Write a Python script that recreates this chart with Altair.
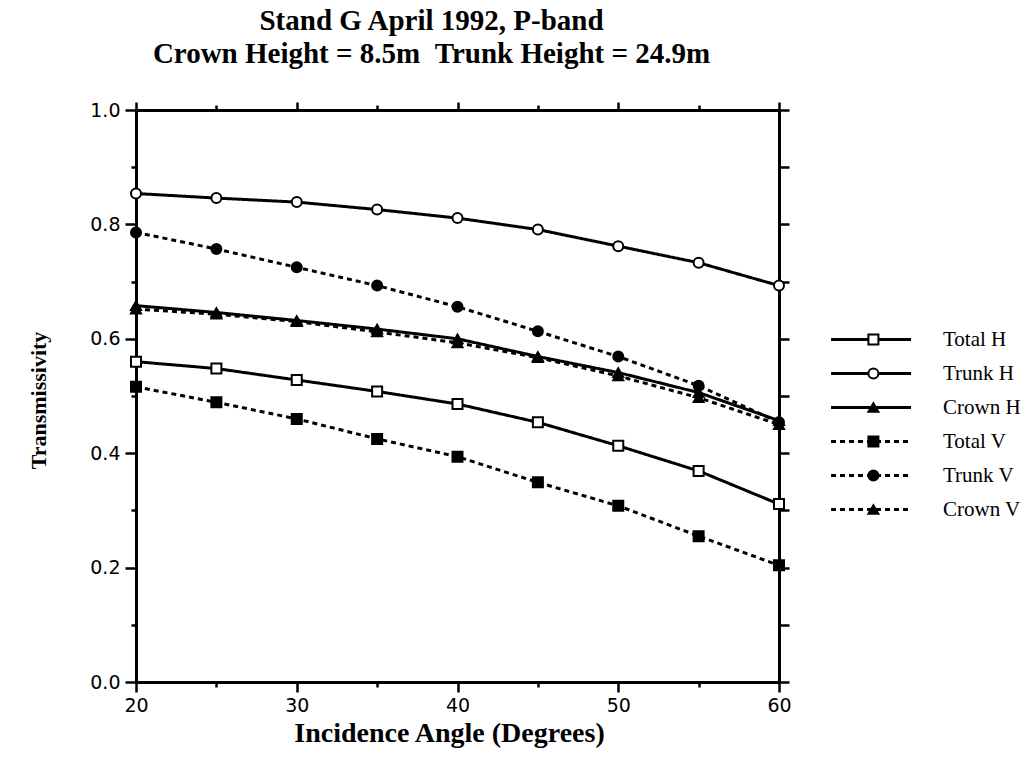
import altair as alt
import pandas as pd

# ---- data ----
angles = [20, 25, 30, 35, 40, 45, 50, 55, 60]
total_h = [0.560, 0.548, 0.528, 0.508, 0.486, 0.454, 0.413, 0.369, 0.311]
trunk_h = [0.854, 0.846, 0.839, 0.826, 0.811, 0.791, 0.762, 0.733, 0.693]
crown_h = [0.658, 0.646, 0.632, 0.617, 0.600, 0.569, 0.541, 0.506, 0.457]
total_v = [0.516, 0.489, 0.460, 0.425, 0.394, 0.349, 0.308, 0.255, 0.204]
trunk_v = [0.786, 0.757, 0.725, 0.693, 0.656, 0.613, 0.569, 0.518, 0.454]
crown_v = [0.652, 0.643, 0.630, 0.612, 0.593, 0.567, 0.535, 0.497, 0.450]

series_names = ["Total H", "Trunk H", "Crown H", "Total V", "Trunk V", "Crown V"]
components = ["Total", "Trunk", "Crown", "Total", "Trunk", "Crown"]
polarizations = ["H", "H", "H", "V", "V", "V"]
series_values = [total_h, trunk_h, crown_h, total_v, trunk_v, crown_v]

x_major = [20, 30, 40, 50, 60]
x_minor = [25, 35, 45, 55]
y_major = [0.0, 0.2, 0.4, 0.6, 0.8, 1.0]
y_minor = [0.1, 0.3, 0.5, 0.7, 0.9]
y_right = [0.0, 0.1, 0.2, 0.3, 0.4, 0.5, 0.6, 0.7, 0.8, 0.9, 1.0]

title_lines = ["Stand G April 1992, P-band",
               "Crown Height = 8.5m\u00a0\u00a0Trunk Height = 24.9m"]

rows = []
for name, comp, pol, vals in zip(series_names, components, polarizations, series_values):
    for a, v in zip(angles, vals):
        rows.append({"series": name, "comp": comp, "pol": pol, "angle": a, "value": v})
df = pd.DataFrame(rows)
leg = pd.DataFrame({"series": series_names, "comp": components, "pol": polarizations})

SERIF = "Liberation Serif"
SANS = "DejaVu Sans"

xs = alt.Scale(domain=[20, 60], nice=False, zero=False)
ys = alt.Scale(domain=[0, 1], nice=False, zero=False)
dash_scale = alt.Scale(domain=["H", "V"], range=[[1, 0], [5, 4]])
shape_scale = alt.Scale(domain=["Total", "Trunk", "Crown"], range=["square", "circle", "triangle-up"])
fill_scale = alt.Scale(domain=series_names, range=["white", "white", "black", "black", "black", "black"])

common = dict(domainColor="black", domainWidth=3, tickColor="black", tickWidth=2.5,
              labelColor="black", labelFont=SANS, labelFontSize=19, labelFlush=False,
              grid=False, offset=0)

lines = alt.Chart(df).mark_line(color="black", strokeWidth=3).encode(
    x=alt.X("angle:Q", scale=xs, axis=alt.Axis(
        values=x_major, tickSize=10, format="d", orient="bottom", labelPadding=4,
        title="Incidence Angle (Degrees)", titleFont=SERIF, titleFontSize=28, titleFontWeight="bold",
        titleColor="black", titleX=313, titleY=59, titleBaseline="alphabetic", **common)),
    y=alt.Y("value:Q", scale=ys, axis=alt.Axis(
        values=y_major, tickSize=11, format=".1f", orient="left", labelPadding=5,
        title="Transmissivity", titleFont=SERIF, titleFontSize=22, titleFontWeight="bold",
        titleColor="black", titleX=-98, titleY=290, titleBaseline="middle", **common)),
    strokeDash=alt.StrokeDash("pol:N", scale=dash_scale, legend=None),
    detail="series:N",
)

points = alt.Chart(df).mark_point(filled=True, stroke="black", strokeWidth=2, size=100, opacity=1).encode(
    x=alt.X("angle:Q", scale=xs, axis=None),
    y=alt.Y("value:Q", scale=ys, axis=None),
    shape=alt.Shape("comp:N", scale=shape_scale, legend=None),
    fill=alt.Fill("series:N", scale=fill_scale, legend=None),
)

minor = alt.Chart(df).mark_point(opacity=0).encode(
    x=alt.X("angle:Q", scale=xs, axis=alt.Axis(values=x_minor, tickSize=5, labels=False, domain=False,
                                                 title=None, orient="bottom", **common)),
    y=alt.Y("value:Q", scale=ys, axis=alt.Axis(values=y_minor, tickSize=5, labels=False, domain=False,
                                                 title=None, orient="left", **common)),
)

topright = alt.Chart(df).mark_point(opacity=0).encode(
    x=alt.X("angle:Q", scale=xs, axis=alt.Axis(values=x_major, tickSize=8, labels=False,
                                                 title=None, orient="top", **common)),
    y=alt.Y("value:Q", scale=ys, axis=alt.Axis(values=y_right, tickSize=10, labels=False,
                                                 title=None, orient="right", **common)),
)

topminor = alt.Chart(df).mark_point(opacity=0).encode(
    x=alt.X("angle:Q", scale=xs, axis=alt.Axis(values=x_minor, tickSize=5, labels=False, domain=False,
                                                 title=None, orient="top", **common)),
    y=alt.Y("value:Q", scale=ys, axis=None),
)

base = alt.layer(lines, points, minor, topright, topminor).resolve_axis(x="independent", y="independent")

lx = alt.Scale(domain=[0, 1], range=[695, 775], nice=False, zero=False)
ly = alt.Scale(type="point", domain=series_names, range=[229.5, 399.5], padding=0)

leg_rules = alt.Chart(leg).mark_rule(color="black", strokeWidth=3).encode(
    x=alt.XDatum(0, scale=lx, axis=None),
    x2=alt.X2Datum(1),
    y=alt.Y("series:N", scale=ly, axis=None),
    strokeDash=alt.StrokeDash("pol:N", scale=dash_scale, legend=None),
)
leg_points = alt.Chart(leg).mark_point(filled=True, stroke="black", strokeWidth=2, size=100, opacity=1).encode(
    x=alt.XDatum(0.53, scale=lx, axis=None),
    y=alt.Y("series:N", scale=ly, axis=None),
    shape=alt.Shape("comp:N", scale=shape_scale, legend=None),
    fill=alt.Fill("series:N", scale=fill_scale, legend=None),
)
leg_text = alt.Chart(leg).mark_text(align="left", baseline="middle", dx=32, font=SERIF,
                                    fontSize=21, color="black").encode(
    x=alt.XDatum(1, scale=lx, axis=None),
    y=alt.Y("series:N", scale=ly, axis=None),
    text="series:N",
)
legend = alt.layer(leg_rules, leg_points, leg_text)

chart = alt.layer(base, legend).resolve_scale(x="independent", y="independent").properties(
    width=643, height=572,
    title=alt.TitleParams(text=title_lines, font=SERIF, fontSize=29, fontWeight="bold", color="black",
                          anchor="middle", dx=-26, offset=32, lineHeight=33),
    padding={"left": 136, "top": 110, "right": 249, "bottom": 92},
    autosize="none",
).configure_view(stroke=None).configure(background="white")

chart.save("out.html", embed_options={"renderer": "svg", "actions": False})
